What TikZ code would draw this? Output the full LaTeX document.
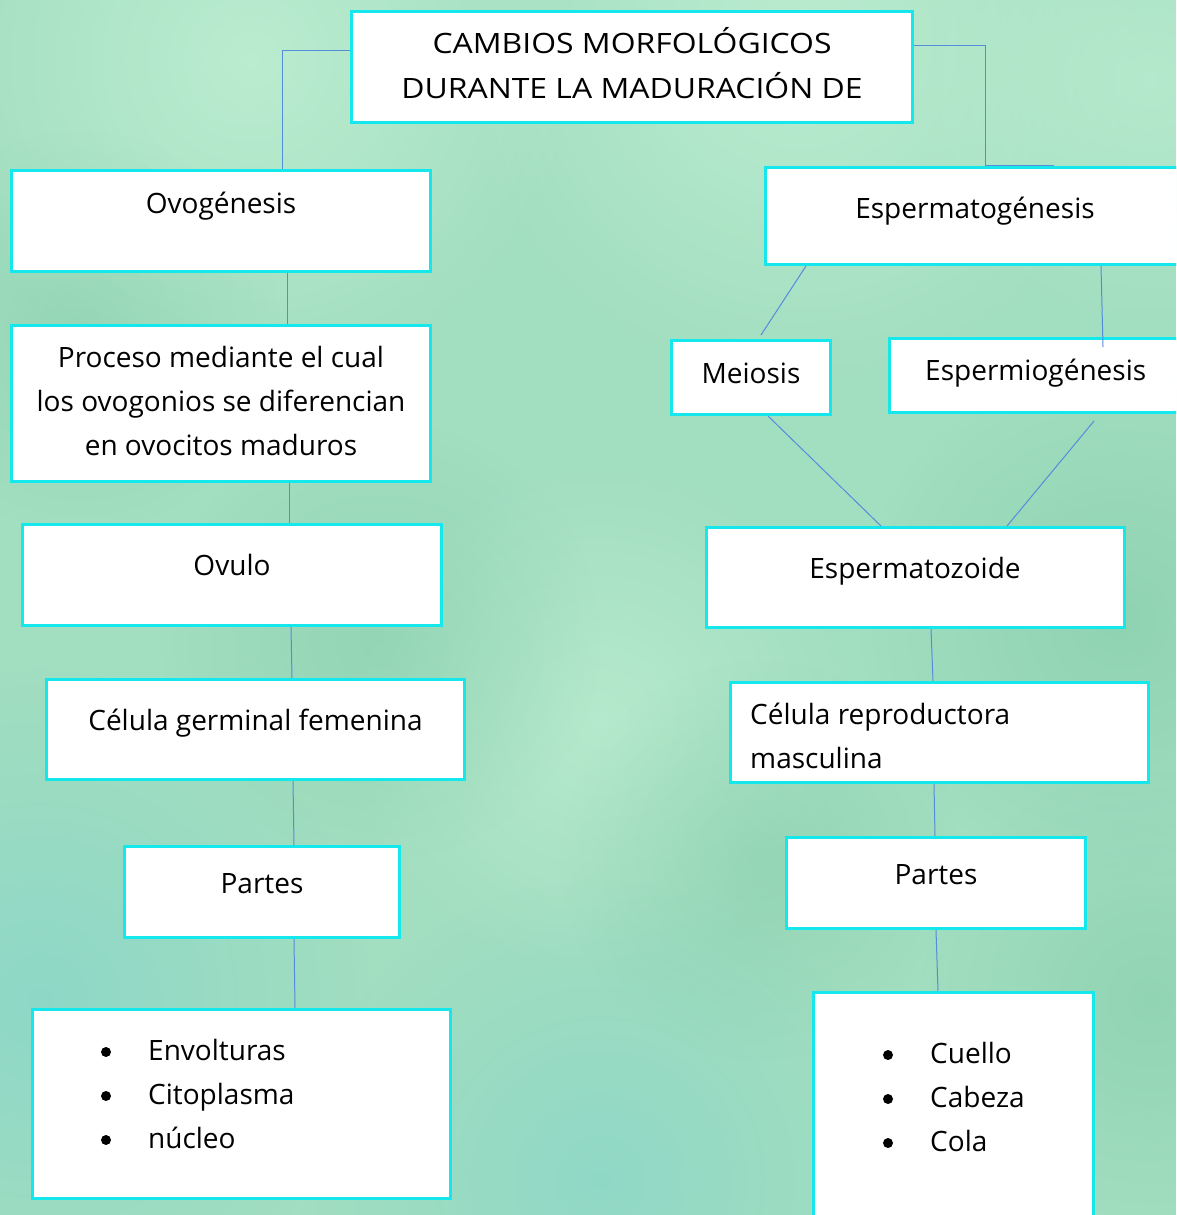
\documentclass[tikz,border=0pt]{standalone}
\usepackage{fontspec}
\setmainfont{Open Sans}
\newfontfamily\titlefont[FakeStretch=1.14]{Open Sans}
\usetikzlibrary{fadings}
\definecolor{bgbase}{RGB}{162,222,192}
\definecolor{bglight}{RGB}{190,238,210}
\definecolor{bgdark}{RGB}{125,200,165}
\definecolor{bgteal}{RGB}{140,215,200}
\definecolor{boxline}{RGB}{20,232,236}
\definecolor{conn}{RGB}{85,140,220}
\tikzfading[name=softblob, inner color=transparent!0, outer color=transparent!100]
\tikzset{
  box/.style={draw=boxline, line width=3pt, fill=white, inner sep=0pt},
  lbl/.style={font=\fontsize{28}{30}\selectfont, inner sep=0pt, anchor=base},
  lbll/.style={lbl, anchor=base west},
  ttl/.style={lbl, font=\titlefont\fontsize{28}{30}\selectfont},
  link/.style={draw=conn, line width=1pt},
  blob/.style={path fading=softblob}
}
\begin{document}
\begin{tikzpicture}[x=1pt,y=-1pt]
\useasboundingbox (0,0) rectangle (1176,1215);
\begin{scope}
\clip (0,0) rectangle (1176,1215);
\fill[bgbase] (0,0) rectangle (1176,1215);
% soft background mottling
\fill[bglight, blob, fill opacity=0.9] (250,60) circle (330);
\fill[bglight, blob, fill opacity=0.9] (800,40) circle (350);
\fill[bglight, blob, fill opacity=0.7] (600,720) circle (260);
\fill[bglight, blob, fill opacity=0.7] (1150,80) circle (250);
\fill[bgdark, blob, fill opacity=0.5] (1120,620) circle (260);
\fill[bgdark, blob, fill opacity=0.4] (380,640) circle (220);
\fill[bgteal, blob, fill opacity=0.9] (40,1000) circle (330);
\fill[bgteal, blob, fill opacity=0.8] (600,1180) circle (300);
\fill[bgdark, blob, fill opacity=0.45] (1150,1000) circle (230);
\fill[bgdark, blob, fill opacity=0.4] (760,860) circle (200);
\fill[bgdark, blob, fill opacity=0.35] (80,330) circle (200);

% boxes
\node[box, minimum width=561pt, minimum height=111pt] (title) at (632,67) {};
\node[box, minimum width=419pt, minimum height=101pt] (ovo) at (221,221) {};
\node[box, minimum width=419pt, minimum height=156pt] (proc) at (221,403.5) {};
\node[box, minimum width=419pt, minimum height=101pt] (ovulo) at (232,575) {};
\node[box, minimum width=418pt, minimum height=100pt] (celf) at (255.5,729.5) {};
\node[box, minimum width=275pt, minimum height=91pt] (partL) at (262,892) {};
\node[box, minimum width=418pt, minimum height=189pt] (listL) at (241.5,1104) {};
\node[box, minimum width=413pt, minimum height=97pt] (esp) at (972,216) {};
\node[box, minimum width=159pt, minimum height=74pt] (mei) at (751,377.5) {};
\node[box, minimum width=289pt, minimum height=74pt] (espm) at (1034,375.5) {};
\node[box, minimum width=418pt, minimum height=100pt] (espz) at (915.5,577.5) {};
\node[box, minimum width=418pt, minimum height=100pt] (celm) at (939.5,732.5) {};
\node[box, minimum width=299pt, minimum height=91pt] (partR) at (936,883) {};
\node[box, minimum width=280pt, minimum height=231pt] (listR) at (953.5,1108) {};

% connectors
\coordinate (tl) at (282,51);
\coordinate (tr) at (985,46);
\coordinate (espj) at (985,165);
\coordinate (espe) at (1054,165);
\draw[link] (title.west |- tl) -- (tl) -- (tl |- ovo.north);
\draw[link] (title.east |- tr) -- (tr) -- (espj) -- (espe);
\draw[link] (ovo.south -| 287,0) -- (proc.north -| 287,0);
\draw[link] (proc.south -| 289,0) -- (ovulo.north -| 289,0);
\draw[link] (ovulo.south -| 291,0) -- (celf.north -| 292,0);
\draw[link] (celf.south -| 293,0) -- (partL.north -| 294,0);
\draw[link] (partL.south -| 294,0) -- (listL.north -| 295,0);
\coordinate (meitop) at (761,335);
\coordinate (espmtop) at (1103,347);
\coordinate (espmbot) at (1094,421);
\draw[link] (esp.south -| 806,0) -- (meitop);
\draw[link] (esp.south -| 1101,0) -- (espmtop);
\draw[link] (mei.south -| 768,0) -- (espz.north -| 881,0);
\draw[link] (espmbot) -- (espz.north -| 1007,0);
\draw[link] (espz.south -| 931,0) -- (celm.north -| 933,0);
\draw[link] (celm.south -| 934,0) -- (partR.north -| 935,0);
\draw[link] (partR.south -| 936,0) -- (listR.north -| 938,0);

% texts
\node[ttl] (t1) at (632,54) {CAMBIOS MORFOLÓGICOS};
\node[ttl] (t2) at (632,98) {DURANTE LA MADURACIÓN DE};
\node[lbl] (t3) at (221,213) {Ovogénesis};
\node[lbl] (t4a) at (221,367) {Proceso mediante el cual};
\node[lbl] (t4b) at (221,411) {los ovogonios se diferencian};
\node[lbl] (t4c) at (221,455) {en ovocitos maduros};
\node[lbl] (t5) at (232,575) {Ovulo};
\node[lbl] (t6) at (255.5,730) {Célula germinal femenina};
\node[lbl] (t7) at (262,893) {Partes};
\node[lbll] (t8a) at (148,1060) {Envolturas};
\node[lbll] (t8b) at (148,1104) {Citoplasma};
\node[lbll] (t8c) at (148,1148) {núcleo};
\fill (106,1052) circle (5) (106,1096) circle (5) (106,1140) circle (5);
\node[lbl] (t9) at (975,218) {Espermatogénesis};
\node[lbl] (t10) at (751,383) {Meiosis};
\node[lbll] (t11) at (925,380) {Espermiogénesis};
\node[lbl] (t12) at (915,578) {Espermatozoide};
\node[lbll] (t13a) at (750,724) {Célula reproductora};
\node[lbll] (t13b) at (750,768) {masculina};
\node[lbl] (t14) at (936,884) {Partes};
\node[lbll] (t15a) at (930,1063) {Cuello};
\node[lbll] (t15b) at (930,1107) {Cabeza};
\node[lbll] (t15c) at (930,1151) {Cola};
\fill (888,1055) circle (5) (888,1099) circle (5) (888,1143) circle (5);
\end{scope}
\end{tikzpicture}
\end{document}
